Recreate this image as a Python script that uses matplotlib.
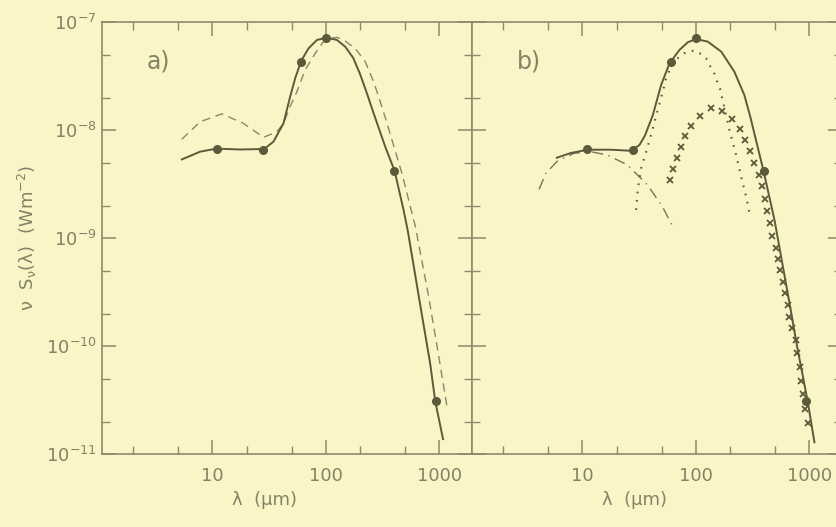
import numpy as np
import matplotlib
matplotlib.use('Agg')
import matplotlib.pyplot as plt
from matplotlib.ticker import FixedLocator, NullFormatter, FixedFormatter

plt.rcParams['font.family'] = ['DejaVu Sans']
plt.rcParams['mathtext.fontset'] = 'dejavusans'
plt.rcParams['mathtext.default'] = 'regular'

BG = '#f9f5c6'
INK = '#5c5a3a'
AXC = '#8e8b6c'
TXT = '#858266'

# photometry (both panels)
lam_obs = [10.9, 28.0, 60.0, 100.0, 400.0, 930.0]
flux_obs = [6.7e-9, 6.6e-9, 4.3e-8, 7.2e-8, 4.2e-9, 3.1e-11]

# panel a: model fit (solid) and alternative model (dashed)
lam_a_fit = [5.37, 7.8, 10.8, 17.5, 28.6, 34.5, 42.3, 48.4, 53.6, 60.5, 70.3, 83.4, 101, 125,
             148, 174, 200, 230, 263, 333, 403, 483, 525, 697, 828, 920, 1076]
flux_a_fit = [5.37e-9, 6.34e-9, 6.76e-9, 6.64e-9, 6.71e-9, 7.85e-9, 1.16e-8, 2.05e-8, 3.03e-8,
              4.39e-8, 5.74e-8, 6.86e-8, 7.21e-8, 6.86e-8, 5.94e-8, 4.68e-8, 3.31e-8, 2.19e-8,
              1.44e-8, 7.05e-9, 4.2e-9, 1.83e-9, 1.19e-9, 2.02e-10, 6.97e-11, 3.07e-11, 1.38e-11]
lam_a_alt = [5.37, 7.8, 12.1, 18.7, 28.2, 37.0, 42.3, 48.4, 55.5, 65.6, 80.5, 93.3, 109, 126,
             143, 181, 222, 263, 301, 333, 382, 468, 614, 804, 953, 1167]
flux_a_alt = [8.26e-9, 1.2e-8, 1.42e-8, 1.16e-8, 8.61e-9, 9.7e-9, 1.16e-8, 1.66e-8, 2.28e-8,
              3.63e-8, 5.16e-8, 6.46e-8, 7.11e-8, 7.24e-8, 6.86e-8, 5.74e-8, 4.32e-8, 2.82e-8,
              1.84e-8, 1.32e-8, 8.13e-9, 3.98e-9, 1.28e-9, 2.88e-10, 1.0e-10, 2.75e-11]

# panel b: total (solid), warm (dash-dot), cold (dotted), very cold (crosses)
lam_b_tot = [5.94, 7.94, 11.2, 17.8, 26.7, 31.8, 35.5, 41.7, 49.3, 58.5, 71.6, 84.7, 100, 127,
             167, 218, 267, 302, 394, 492, 667, 778, 966, 1107]
flux_b_tot = [5.57e-9, 6.17e-9, 6.61e-9, 6.61e-9, 6.46e-9, 7.31e-9, 8.91e-9, 1.38e-8, 2.62e-8,
              4.17e-8, 5.55e-8, 6.53e-8, 7.0e-8, 6.62e-8, 5.35e-8, 3.49e-8, 2.12e-8, 1.32e-8,
              4.2e-9, 1.48e-9, 2.51e-10, 1.0e-10, 3.07e-11, 1.29e-11]
lam_b_warm = [4.15, 4.75, 6.03, 8.45, 11.8, 16.6, 24.9, 37.4, 50.7, 63.4]
flux_b_warm = [2.84e-9, 3.98e-9, 5.2e-9, 6.12e-9, 6.34e-9, 5.9e-9, 4.78e-9, 3.12e-9, 1.96e-9, 1.25e-9]
lam_b_cold = [29.7, 30.7, 32.9, 36.4, 40.3, 46.1, 51.1, 54.6, 60.4, 69.2, 78.2, 87.7, 98.4, 111,
              123, 134, 146, 154, 163, 176, 197, 226, 250, 277, 296]
flux_b_cold = [1.83e-9, 2.8e-9, 4.45e-9, 6.31e-9, 9.12e-9, 1.55e-8, 2.29e-8, 3.03e-8, 3.89e-8,
               4.65e-8, 5.16e-8, 5.42e-8, 5.46e-8, 5.08e-8, 4.65e-8, 3.89e-8, 3.31e-8, 2.82e-8,
               2.42e-8, 1.71e-8, 1.01e-8, 5.9e-9, 3.72e-9, 2.43e-9, 1.73e-9]
lam_b_vcold = [59.3, 62.5, 67.9, 73.6, 80.9, 91.2, 109, 136, 171, 207, 242, 273, 302, 327, 362,
               383, 404, 424, 447, 470, 504, 527, 552, 579, 608, 641, 659, 697, 755, 780, 818,
               845, 875, 912, 962]
flux_b_vcold = [3.47e-9, 4.36e-9, 5.57e-9, 6.97e-9, 8.85e-9, 1.1e-8, 1.36e-8, 1.6e-8, 1.52e-8,
                1.28e-8, 1.02e-8, 8.13e-9, 6.43e-9, 5.01e-9, 3.85e-9, 3.05e-9, 2.33e-9, 1.8e-9,
                1.4e-9, 1.06e-9, 8.18e-10, 6.4e-10, 5.09e-10, 3.97e-10, 3.13e-10, 2.41e-10,
                1.88e-10, 1.47e-10, 1.14e-10, 8.61e-11, 6.47e-11, 4.8e-11, 3.6e-11, 2.61e-11,
                1.96e-11]

x_major = [1, 10, 100, 1000]
x_minor = [2, 5, 20, 50, 200, 500]
x_labels = ['', '10', '100', '1000']
y_major = [1e-11, 1e-10, 1e-9, 1e-8, 1e-7]
y_labels = [r'$10^{-11}$', r'$10^{-10}$', r'$10^{-9}$', r'$10^{-8}$', r'$10^{-7}$']
y_minor = [m * 10.0**e for e in range(-11, -7) for m in (2, 5)]

fig = plt.figure(figsize=(8.36, 5.27), dpi=100, facecolor=BG)
ax_a = fig.add_axes([0.1224, 0.138, 0.4426, 0.8197])
ax_b = fig.add_axes([0.565, 0.138, 0.4426, 0.8197])

for ax in (ax_a, ax_b):
    ax.set_facecolor(BG)
    ax.set_xscale('log')
    ax.set_yscale('log')
    ax.set_xlim(10**0.03, 10**3.29)
    ax.set_ylim(1e-11, 1e-7)
    ax.xaxis.set_major_locator(FixedLocator(x_major))
    ax.xaxis.set_major_formatter(FixedFormatter(x_labels))
    ax.xaxis.set_minor_locator(FixedLocator(x_minor))
    ax.xaxis.set_minor_formatter(NullFormatter())
    ax.yaxis.set_major_locator(FixedLocator(y_major))
    ax.yaxis.set_minor_locator(FixedLocator(y_minor))
    ax.yaxis.set_minor_formatter(NullFormatter())
    ax.tick_params(which='both', direction='in', top=True, right=True, color=AXC,
                   labelcolor=TXT, labelsize=13)
    ax.tick_params(which='major', length=10, width=1.1)
    ax.tick_params(which='minor', length=5.5, width=1.0)
    ax.tick_params(axis='x', pad=9)
    for s in ax.spines.values():
        s.set_color(AXC)
        s.set_linewidth(1.2)
    ax.set_xlabel('λ  (µm)', color=TXT, fontsize=13)
    ax.xaxis.set_label_coords(0.437, -0.085)
    ax.xaxis.label.set_va('top')

ax_a.yaxis.set_major_formatter(FixedFormatter(y_labels))
ax_a.tick_params(axis='y', pad=4)
ax_b.yaxis.set_major_formatter(NullFormatter())

# panel a
ax_a.plot(lam_a_alt, flux_a_alt, color='#8a876c', lw=1.0, dashes=(6, 4))
ax_a.plot(lam_a_fit, flux_a_fit, color=INK, lw=1.4)
ax_a.plot(lam_obs, flux_obs, 'o', color=INK, ms=5.5)
ax_a.text(2.65, 4.3e-8, 'a)', color=TXT, fontsize=17, ha='left', va='center')

# panel b
ax_b.plot(lam_b_warm, flux_b_warm, color='#77745a', lw=1.0, dashes=(8, 4, 1, 4))
ax_b.plot(lam_b_cold, flux_b_cold, color=INK, lw=1.5, dashes=(0.8, 3.2))
ax_b.plot(lam_b_vcold, flux_b_vcold, 'x', color=INK, ms=4.5, mew=1.3)
ax_b.plot(lam_b_tot, flux_b_tot, color=INK, lw=1.4)
ax_b.plot(lam_obs, flux_obs, 'o', color=INK, ms=5.5)
ax_b.text(2.67, 4.3e-8, 'b)', color=TXT, fontsize=17, ha='left', va='center')

fig.text(27 / 836, 1 - 238 / 527, r'$\nu\ \ S_\nu(\lambda)\ \ (Wm^{-2})$',
         rotation=90, ha='center', va='center', color=TXT, fontsize=13)

fig.savefig('out.png', dpi=100, facecolor=BG)
